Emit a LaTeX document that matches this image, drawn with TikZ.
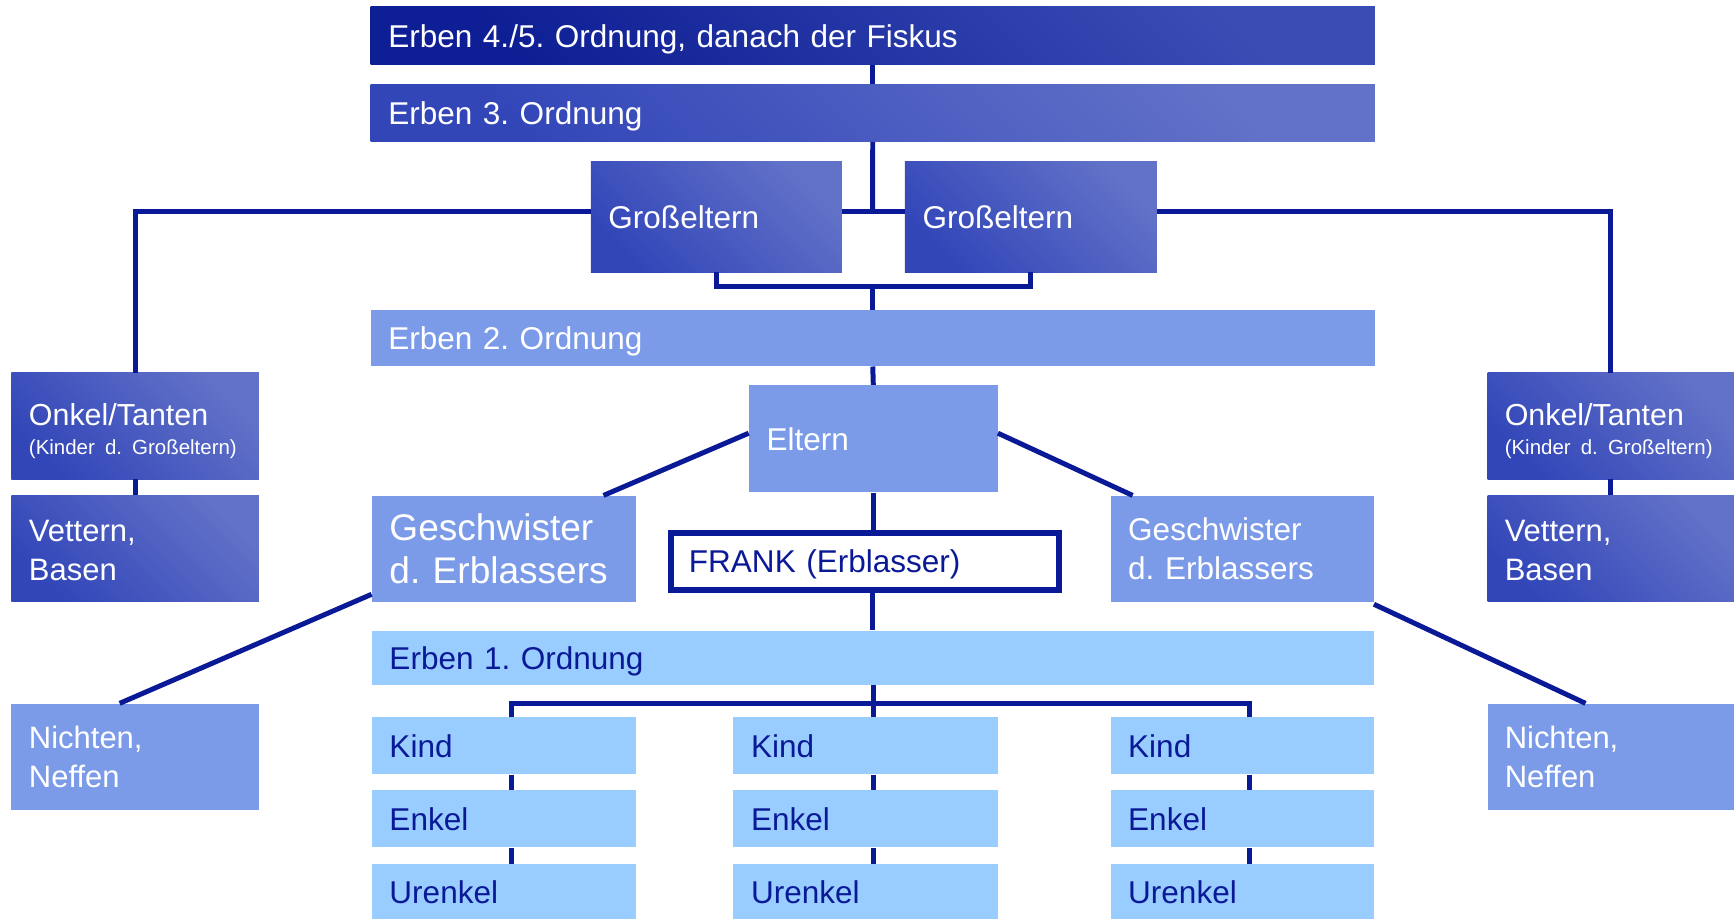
\documentclass[tikz,border=0pt]{standalone}
\usepackage{fontspec}
\setmainfont{Liberation Sans}
\frenchspacing
\hyphenpenalty=10000
\definecolor{linecol}{RGB}{10,25,150}
\definecolor{darkA}{RGB}{14,30,148}
\definecolor{darkB}{RGB}{58,77,181}
\definecolor{medA}{RGB}{50,70,184}
\definecolor{medB}{RGB}{98,114,200}
\definecolor{lightA}{RGB}{123,155,233}
\definecolor{paleA}{RGB}{153,204,255}
\definecolor{txtdark}{RGB}{10,25,150}
\tikzset{
  bx/.style n args={2}{anchor=north west, minimum width=#1pt, minimum height=#2pt,
     text width=#1pt-32pt, inner xsep=16pt, inner ysep=0pt, align=left,
     font=\fontsize{28.5}{35}\selectfont},
  oneline/.style={text height=21pt, text depth=0pt},
  darkbox/.style={top color=darkB, bottom color=darkA, shading angle=-45, text=white},
  medbox/.style={top color=medB, bottom color=medA, shading angle=-45, text=white},
  litebox/.style={fill=lightA, text=white},
  palebox/.style={fill=paleA, text=txtdark},
  sidebox/.style={font=\fontsize{28}{35}\selectfont, inner xsep=15pt, text width=192pt},
  onkbox/.style={font=\fontsize{27.5}{34}\selectfont, text height=18pt, text depth=19.4pt},
  twoline/.style={text height=10pt, text depth=22.4pt},
  conn/.style={draw=linecol, line width=4.5pt},
}
\begin{document}
\begin{tikzpicture}[x=1pt,y=-1pt]
\useasboundingbox (0,0) rectangle (1568,831);
% top levels
\node[bx={908}{52}, oneline, darkbox] (e45) at (335,6) {Erben 4./5. Ordnung, danach der Fiskus};
\node[bx={908}{52}, oneline, medbox] (e3) at (335,76) {Erben 3. Ordnung};
\node[bx={227}{100}, oneline, medbox] (gL) at (534,146) {Großeltern};
\node[bx={228}{100}, oneline, medbox] (gR) at (818,146) {Großeltern};
\node[bx={908}{51}, oneline, litebox] (e2) at (335,280) {Erben 2. Ordnung};
\node[bx={225}{97}, oneline, litebox] (elt) at (677,348) {Eltern};
\node[bx={239}{96}, litebox, font=\fontsize{33.5}{39}\selectfont] (gesL) at (336,448) {Geschwister\\d. Erblassers};
\node[bx={238}{96}, litebox] (gesR) at (1004,448) {Geschwister\\d. Erblassers};
\node[bx={350.5}{51.5}, oneline, fill=white, draw=linecol, line width=5.5pt, text=txtdark, inner xsep=15.5pt, text width=318pt] (frank) at (604,479) {FRANK (Erblasser)};
\node[bx={906}{49}, oneline, palebox] (e1) at (336,570) {Erben 1. Ordnung};
% children columns
\node[bx={239}{52}, oneline, palebox] (k1) at (336,648) {Kind};
\node[bx={239}{52}, oneline, palebox] (k2) at (663,648) {Kind};
\node[bx={238}{52}, oneline, palebox] (k3) at (1004,648) {Kind};
\node[bx={239}{52}, oneline, palebox] (en1) at (336,714) {Enkel};
\node[bx={239}{52}, oneline, palebox] (en2) at (663,714) {Enkel};
\node[bx={238}{52}, oneline, palebox] (en3) at (1004,714) {Enkel};
\node[bx={239}{50}, oneline, palebox] (u1) at (336,781) {Urenkel};
\node[bx={239}{50}, oneline, palebox] (u2) at (663,781) {Urenkel};
\node[bx={238}{50}, oneline, palebox] (u3) at (1004,781) {Urenkel};
% side columns
\node[bx={224}{96}, medbox, sidebox, onkbox] (onkL) at (10,337) {Onkel/Tanten\\[-7.4pt]\fontsize{18.5}{25.6}\selectfont (Kinder d. Großeltern)};
\node[bx={224}{96}, medbox, sidebox, twoline] (vetL) at (10,448) {Vettern,\\Basen};
\node[bx={224}{96}, litebox, sidebox] (nL) at (10,636) {Nichten,\\Neffen};
\node[bx={223}{96}, medbox, sidebox, onkbox] (onkR) at (1345,337) {Onkel/Tanten\\[-7.4pt]\fontsize{18.5}{25.6}\selectfont (Kinder d. Großeltern)};
\node[bx={223}{96}, medbox, sidebox, twoline] (vetR) at (1345,448) {Vettern,\\Basen};
\node[bx={223}{96}, litebox, sidebox] (nR) at (1345,636) {Nichten,\\Neffen};
% junction coordinates
\coordinate (J1) at (789,191);
\coordinate (J3) at (790,636);
% connectors
\draw[conn] (e45.south) -- (e3.north);
\draw[conn] (e3.south) -- (J1);
\draw[conn] (onkL.north) |- (gL.west |- J1);
\draw[conn] (gL.east |- J1) -- (gR.west |- J1);
\draw[conn] (gR.east |- J1) -| (onkR.north);
\draw[conn] (gL.south) -- ++(0,13) -| (gR.south);
\draw[conn] (e2.north |- 0,259) -- (e2.north);
\draw[conn] (e2.south) -- (elt.north);
\draw[conn] ([yshift=5pt]elt.west) -- ([xshift=90pt]gesL.north);
\draw[conn] ([yshift=5pt]elt.east) -- ([xshift=-99pt]gesR.north);
\draw[conn] (elt.south) -- (elt.south |- frank.north);
\draw[conn] (e1.north |- frank.south) -- (e1.north);
\draw[conn] ([yshift=7pt]gesL.south west) -- ([xshift=-14pt]nL.north);
\draw[conn] ([yshift=-2pt]gesR.south east) -- ([xshift=-23pt]nR.north);
\draw[conn] (e1.south -| J3) -- (J3 |- k2.north);
\draw[conn] ([xshift=7pt]k1.north) |- (J3) -| ([xshift=7pt]k3.north);
\draw[conn] (onkL.south) -- (vetL.north);
\draw[conn] (onkR.south) -- (vetR.north);
\draw[conn] ([xshift=7pt]k1.south) -- ([xshift=7pt]en1.north);
\draw[conn] ([xshift=7pt]k2.south) -- ([xshift=7pt]en2.north);
\draw[conn] ([xshift=7pt]k3.south) -- ([xshift=7pt]en3.north);
\draw[conn] ([xshift=7pt]en1.south) -- ([xshift=7pt]u1.north);
\draw[conn] ([xshift=7pt]en2.south) -- ([xshift=7pt]u2.north);
\draw[conn] ([xshift=7pt]en3.south) -- ([xshift=7pt]u3.north);
\end{tikzpicture}
\end{document}
